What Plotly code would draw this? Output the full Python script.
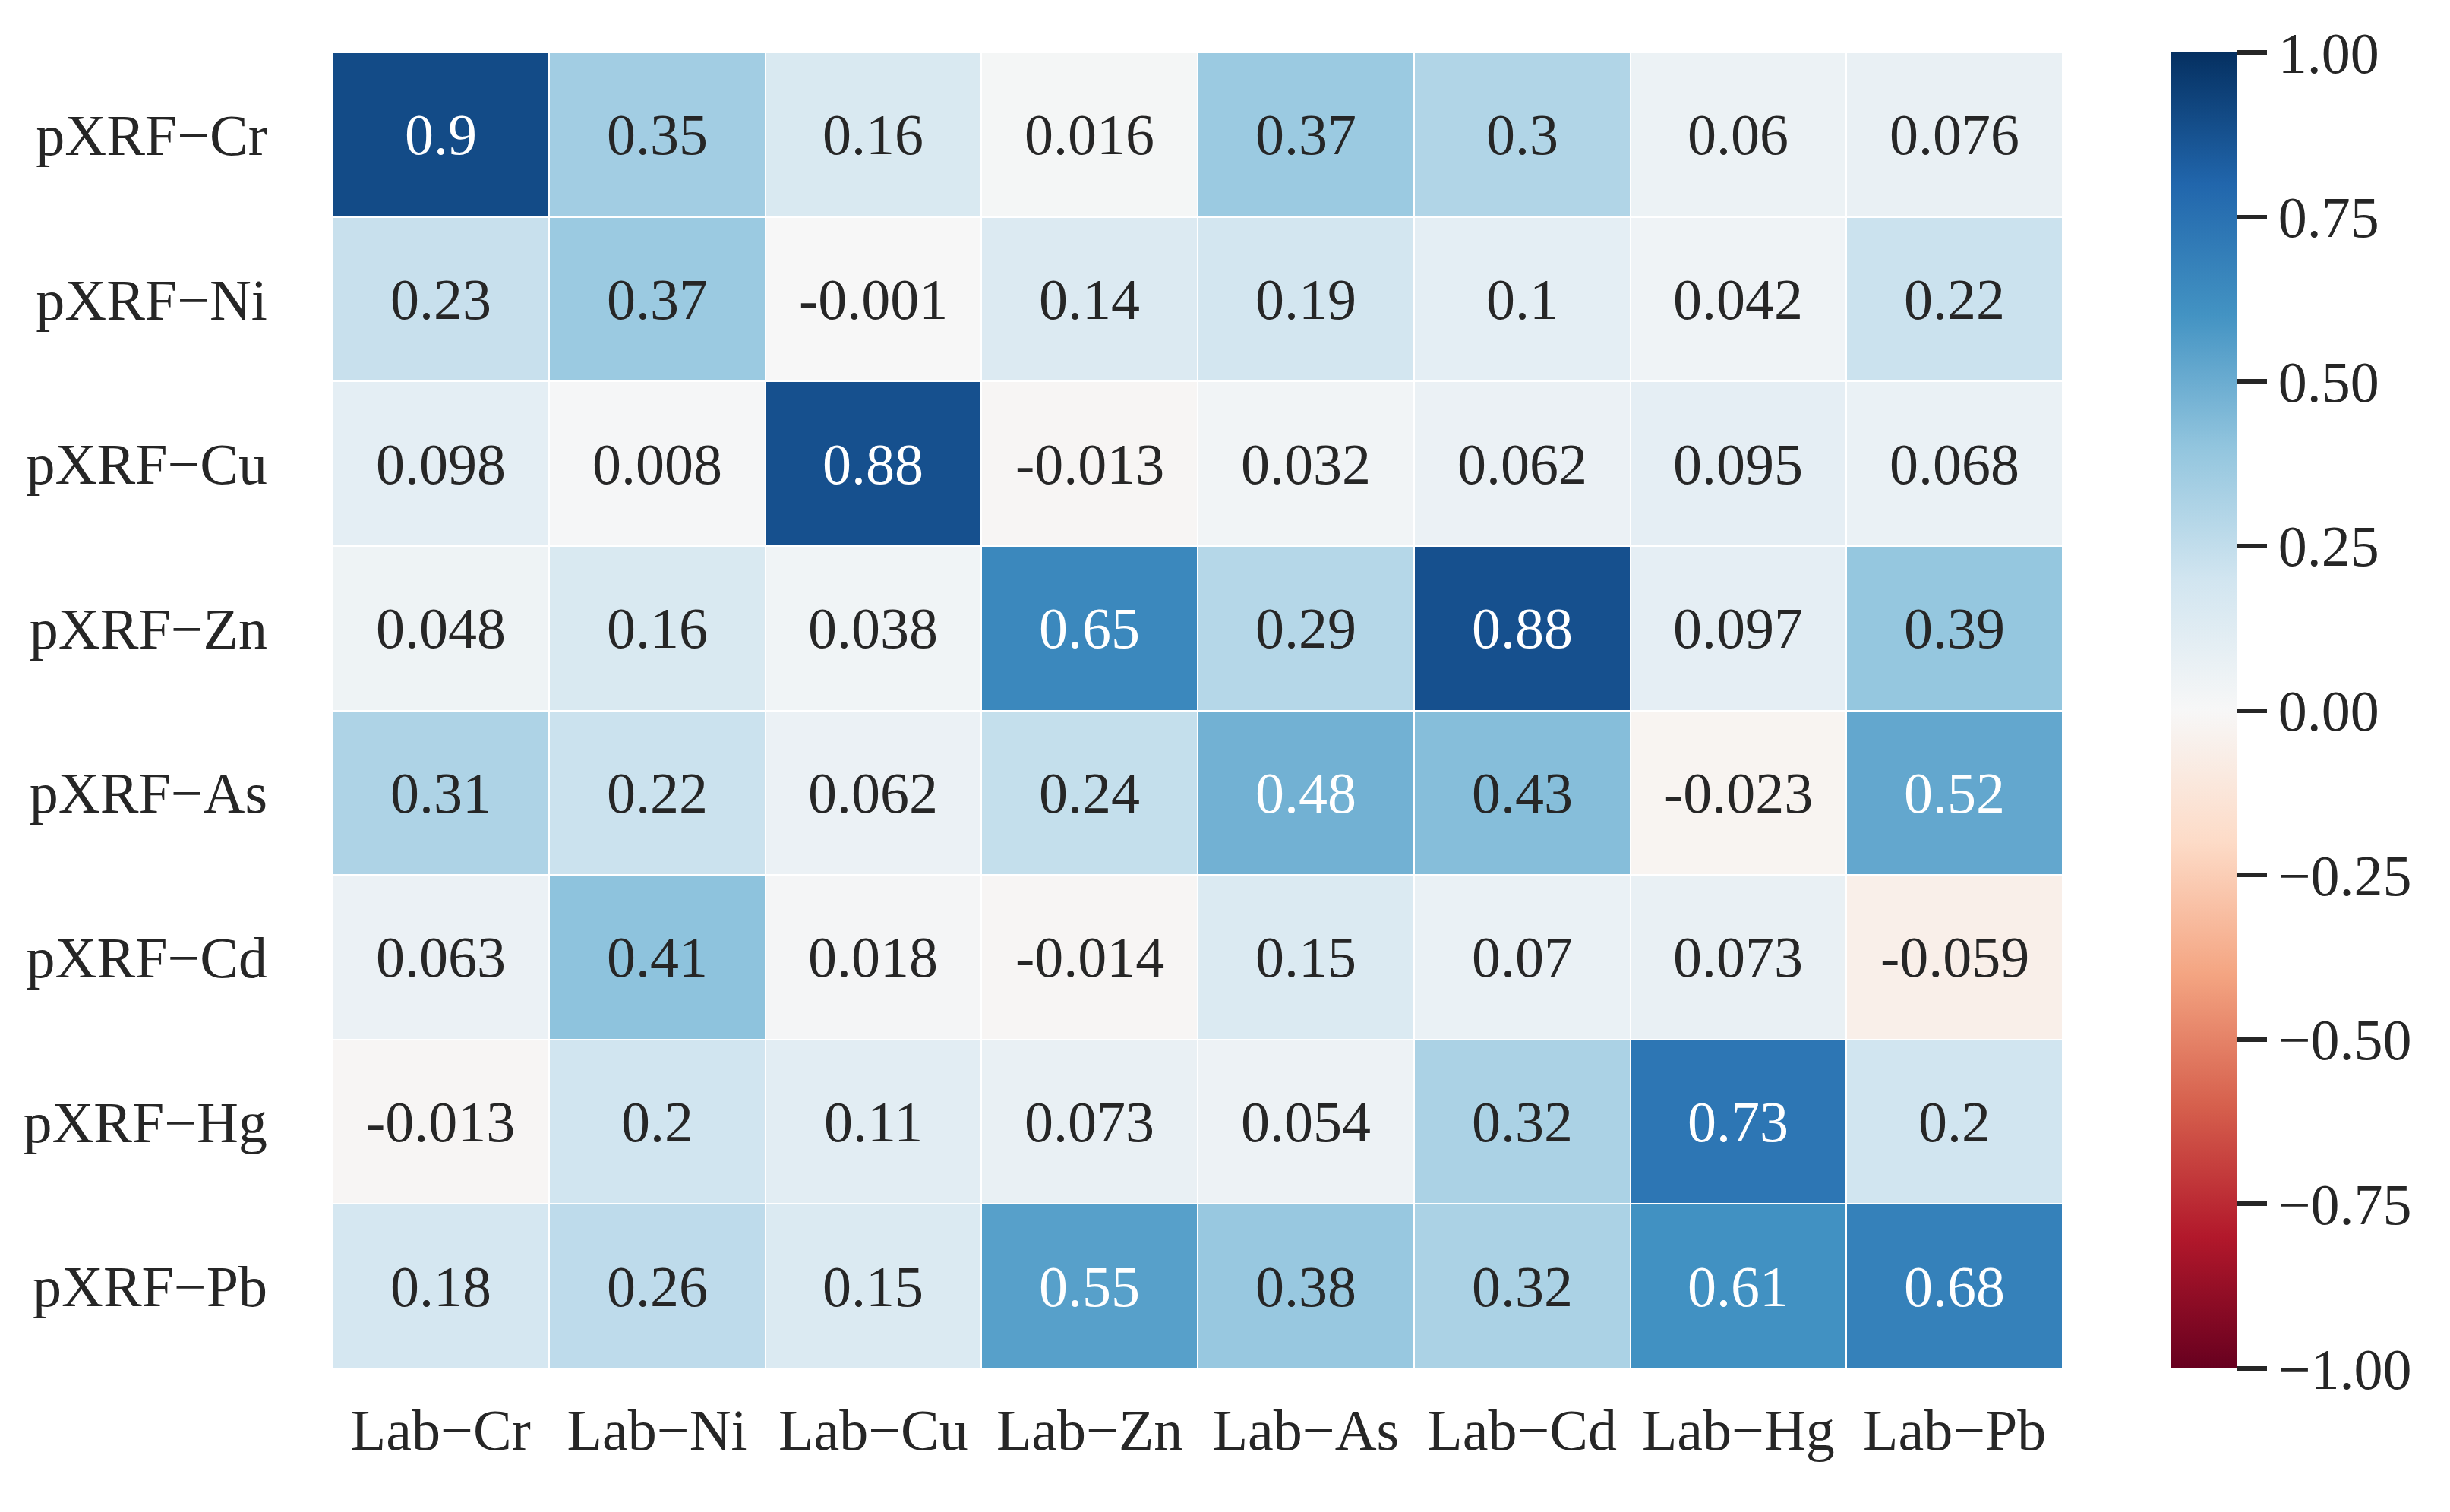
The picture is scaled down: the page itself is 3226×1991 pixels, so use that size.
import plotly.graph_objects as go

lab_labels = ["Lab−Cr", "Lab−Ni", "Lab−Cu", "Lab−Zn", "Lab−As", "Lab−Cd", "Lab−Hg", "Lab−Pb"]
pxrf_labels = ["pXRF−Cr", "pXRF−Ni", "pXRF−Cu", "pXRF−Zn", "pXRF−As", "pXRF−Cd", "pXRF−Hg", "pXRF−Pb"]

row_cr = [0.9, 0.35, 0.16, 0.016, 0.37, 0.3, 0.06, 0.076]
row_ni = [0.23, 0.37, -0.001, 0.14, 0.19, 0.1, 0.042, 0.22]
row_cu = [0.098, 0.008, 0.88, -0.013, 0.032, 0.062, 0.095, 0.068]
row_zn = [0.048, 0.16, 0.038, 0.65, 0.29, 0.88, 0.097, 0.39]
row_as = [0.31, 0.22, 0.062, 0.24, 0.48, 0.43, -0.023, 0.52]
row_cd = [0.063, 0.41, 0.018, -0.014, 0.15, 0.07, 0.073, -0.059]
row_hg = [-0.013, 0.2, 0.11, 0.073, 0.054, 0.32, 0.73, 0.2]
row_pb = [0.18, 0.26, 0.15, 0.55, 0.38, 0.32, 0.61, 0.68]

z = [row_cr, row_ni, row_cu, row_zn, row_as, row_cd, row_hg, row_pb]

cbar_ticks = [-1.0, -0.75, -0.5, -0.25, 0.0, 0.25, 0.5, 0.75, 1.0]

rdbu_colors = ["#67001f", "#b2182b", "#d6604d", "#f4a582", "#fddbc7", "#f7f7f7",
               "#d1e5f0", "#92c5de", "#4393c3", "#2166ac", "#053061"]
colorscale = [[i / (len(rdbu_colors) - 1), c] for i, c in enumerate(rdbu_colors)]

FONT = "Liberation Serif"
FS = 76
TXT = "#262626"

L, R, T, B = 430, 2708, 61, 1794
W, H = 3226, 1991

fig = go.Figure()
fig.add_trace(go.Heatmap(
    z=z, x=lab_labels, y=pxrf_labels,
    colorscale=colorscale, zmin=-1, zmax=1,
    xgap=2, ygap=2,
    colorbar=dict(
        x=(2851 - L) / (R - L), xanchor="left", xref="paper",
        y=0.5, yanchor="middle", len=1.0, lenmode="fraction",
        xpad=0, ypad=0,
        thickness=87, thicknessmode="pixels",
        outlinewidth=0,
        tickvals=cbar_ticks, tickformat=".2f",
        ticks="outside", ticklen=39, tickwidth=6, tickcolor=TXT,
        tickfont=dict(family=FONT, size=FS, color=TXT),
    ),
    hoverinfo="skip",
))

annotations = []
for i, row in enumerate(z):
    for j, v in enumerate(row):
        annotations.append(dict(
            x=lab_labels[j], y=pxrf_labels[i], xref="x", yref="y",
            text=format(v, ".2g"), showarrow=False,
            font=dict(family=FONT, size=FS, color="white" if v > 0.45 else TXT),
        ))

fig.update_layout(
    width=W, height=H,
    margin=dict(l=L, r=W - R, t=T, b=H - B, autoexpand=False),
    paper_bgcolor="white", plot_bgcolor="white",
    annotations=annotations,
    xaxis=dict(showgrid=False, zeroline=False, ticks="", ticklabelstandoff=30,
               tickfont=dict(family=FONT, size=FS, color=TXT)),
    yaxis=dict(showgrid=False, zeroline=False, ticks="", autorange="reversed",
               ticklabelstandoff=85,
               tickfont=dict(family=FONT, size=FS, color=TXT)),
)

fig.write_html("out.html")
